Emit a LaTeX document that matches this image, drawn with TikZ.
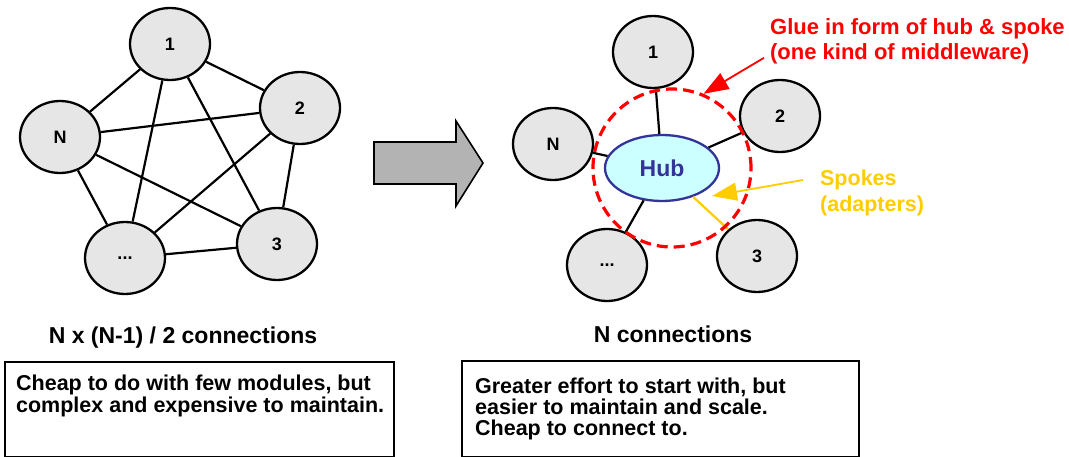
\documentclass[tikz,border=0pt]{standalone}
\usepackage{fontspec}
\setmainfont{Liberation Sans}
\usetikzlibrary{arrows.meta, shapes.geometric}
\definecolor{cnode}{HTML}{E6E6E6}
\definecolor{cblock}{HTML}{B3B3B3}
\definecolor{chub}{HTML}{CCFFFF}
\definecolor{cblue}{HTML}{333399}
\definecolor{cred}{HTML}{FF0000}
\definecolor{cyellow}{HTML}{FFCC00}
\tikzset{
  every picture/.style={line width=2.3pt},
  module/.style={ellipse, draw=black, fill=cnode, minimum width=80pt, minimum height=72pt, inner sep=0pt, font=\fontsize{18}{18}\selectfont\bfseries},
  hubnode/.style={ellipse, draw=cblue, fill=chub, minimum width=114pt, minimum height=66pt, inner sep=0pt, text=cblue, font=\fontsize{23}{23}\selectfont\bfseries},
  link/.style={draw=black, line width=2.2pt},
  ring/.style={circle, draw=cred, line width=3.2pt, dash pattern=on 11pt off 6pt, minimum size=158pt, inner sep=0pt},
  callout/.style={-{Triangle[length=25pt, width=18pt]}, line width=1.8pt},
  title/.style={font=\fontsize{23}{23}\selectfont\bfseries, inner sep=0pt},
  note/.style={font=\fontsize{21.5}{21.8}\selectfont\bfseries, align=left, inner sep=0pt},
  notebox/.style={draw=black, line width=2pt, inner sep=0pt},
}

\begin{document}
\begin{tikzpicture}[x=1pt, y=-1pt]
  \useasboundingbox (0,0) rectangle (1069,457);
  % point to point
  \node[module] (l1) at (170,44) {1};
  \node[module] (l2) at (300,108) {2};
  \node[module] (l3) at (277,244) {3};
  \node[module] (ld) at (125,258) {...};
  \node[module] (lN) at (60,137) {N};
  \foreach \a/\b in {1/2, 1/3, 1/d, 1/N, 2/3, 2/d, 2/N, 3/d, 3/N, d/N} \draw[link] (l\a) -- (l\b);
  \node[title, anchor=base] (ltitle) at (183,343) {N x (N-1) / 2 connections};
  \node[notebox, minimum width=389pt, minimum height=95pt, anchor=north west] (lbox) at (4,361) {};
  \node[note, anchor=north west] (lnote) at (15,374) {Cheap to do with few modules, but\\complex and expensive to maintain.};
  % block arrow
  \draw[fill=cblock, line width=1.6pt] (374,142) -- (456,142) -- (456,121) -- (483,163) -- (456,206) -- (456,184) -- (374,184) -- cycle;
  % hub and spoke
  \node[hubnode] (hub) at (662,168) {Hub};
  \node[module] (r1) at (653,52) {1};
  \node[module] (r2) at (780,116) {2};
  \node[module] (r3) at (757,256) {3};
  \node[module] (rd) at (607,265) {...};
  \node[module] (rN) at (553,144) {N};
  \foreach \m in {1,2,d,N} \draw[link] (hub) -- (r\m);
  \draw[link, draw=cyellow] (hub) -- (r3);
  \node[ring] (glue) at (672,168) {};
  \node[note, text=cred, anchor=north west, font=\fontsize{22}{25}\selectfont\bfseries] (gluetxt) at (769,17) {Glue in form of hub \& spoke\\(one kind of middleware)};
  \draw[callout, cred] ([xshift=-5pt, yshift=7pt]gluetxt.south west) -- (glue.67);
  \node[note, text=cyellow, anchor=north west, font=\fontsize{21.5}{26}\selectfont\bfseries] (spoketxt) at (819,169) {Spokes\\(adapters)};
  \coordinate (spoketip) at (712,196);
  \draw[callout, cyellow] ([xshift=-16pt, yshift=-11pt]spoketxt.north west) -- (spoketip);
  \node[title, anchor=base] (rtitle) at (673,342) {N connections};
  \node[notebox, minimum width=397pt, minimum height=96pt, anchor=north west] (rbox) at (461,360) {};
  \node[note, anchor=north west, font=\fontsize{21.5}{21}\selectfont\bfseries] (rnote) at (474,377) {Greater effort to start with, but\\easier to maintain and scale.\\Cheap to connect to.};
\end{tikzpicture}
\end{document}
